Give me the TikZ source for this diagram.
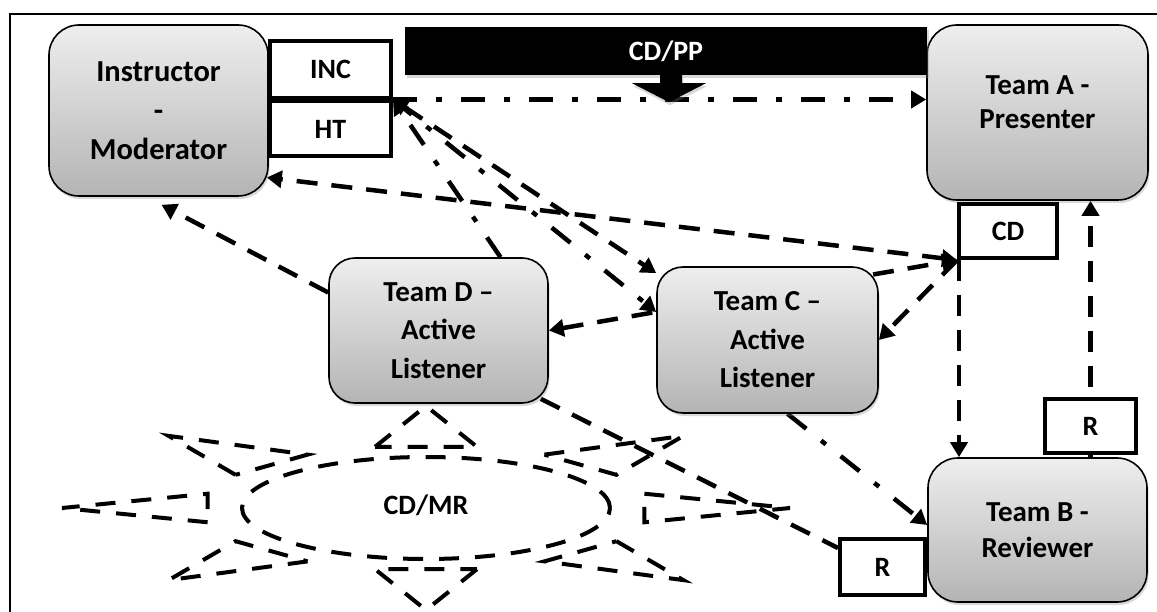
\documentclass[tikz,border=0pt]{standalone}
\usepackage{fontspec}
\setmainfont{Carlito}
\usetikzlibrary{arrows.meta,calc,shadows}
\definecolor{boxtop}{RGB}{238,238,238}
\definecolor{boxbot}{RGB}{180,180,180}
\pgfdeclarelayer{bg}
\pgfsetlayers{bg,main}
\begin{document}
\begin{tikzpicture}[x=1pt,y=-1pt,
  tbox/.style={draw=black, line width=1.6pt, rounded corners=30pt, top color=boxtop, bottom color=boxbot,
    align=center, font=\fontsize{29}{38.5}\selectfont\bfseries, inner sep=0pt,
    drop shadow={opacity=0.3, shadow xshift=1.5pt, shadow yshift=-3pt}},
  sbox/.style={tbox, rounded corners=26pt},
  lbox/.style={draw=black, line width=4pt, fill=white, font=\fontsize{28}{32}\selectfont\bfseries, inner sep=0pt},
  conn/.style={line width=4.5pt},
  dsh/.style={conn, dash pattern=on 21pt off 14pt},
  dd/.style={conn, dash pattern=on 24pt off 19pt on 6pt off 19pt},
  arr/.style={-{Triangle[length=15pt,width=17pt]}},
  arrs/.style={{Triangle[length=15pt,width=17pt]}-{Triangle[length=15pt,width=17pt]}},
  sunline/.style={line width=4pt, dash pattern=on 20pt off 16pt}
]
\useasboundingbox (0,0) rectangle (1157,612);
% frame
\draw[line width=2pt] (10,612) -- (10,14) -- (1157,14);

% boxes
\node[tbox, minimum width=219pt, minimum height=171pt, font=\fontsize{30.5}{39}\selectfont\bfseries] (inst) at (158.5,110.5) {Instructor\\-\\Moderator};
\node[tbox, minimum width=221pt, minimum height=175pt, font=\fontsize{29}{34}\selectfont\bfseries] (teamA) at (1037.5,112.5) {Team A -\\Presenter\\[-13pt]\mbox{}};
\node[tbox, minimum width=219pt, minimum height=144pt, font=\fontsize{29}{36}\selectfont\bfseries] (teamB) at (1037.5,530) {Team B -\\Reviewer};
\node[sbox, minimum width=221pt, minimum height=146pt] (teamC) at (767.5,340) {Team C --\\Active\\Listener};
\node[sbox, minimum width=219pt, minimum height=145pt] (teamD) at (438.5,330.5) {Team D --\\Active\\Listener};

\node[lbox, minimum width=121pt, minimum height=57pt] (inc) at (330.5,69.5) {INC};
\node[lbox, minimum width=121pt, minimum height=55pt] (ht) at (330.5,129) {HT};
\node[lbox, minimum width=98pt, minimum height=54pt] (cdbox) at (1008,231) {CD};
\node[lbox, minimum width=91pt, minimum height=54pt] (r1) at (1090.5,426) {R};
\node[lbox, minimum width=85pt, minimum height=56pt] (r2) at (882.5,567) {R};

% CD/PP bar
\node[fill=black, minimum width=522pt, minimum height=48pt, inner sep=0pt, text=white,
  font=\fontsize{28}{32}\selectfont\bfseries, drop shadow={opacity=0.3, shadow xshift=1.5pt, shadow yshift=-3pt}] (cdpp) at (666,51) {CD/PP};
\fill[black, drop shadow={opacity=0.3, shadow xshift=1pt, shadow yshift=-3pt}]
  ($(cdpp.south)+(-6,0)$) -- ($(cdpp.south)+(16,0)$) -- ($(cdpp.south)+(16,8)$) -- ($(cdpp.south)+(40,8)$)
  -- ($(cdpp.south)+(3,27)$) -- ($(cdpp.south)+(-34,8)$) -- ($(cdpp.south)+(-6,8)$) -- cycle;

% sun shape
\begin{pgfonlayer}{bg}
\begin{scope}[shift={(426,508)}, x=364pt, y=102pt]
  \draw[sunline] (0,0) circle [x radius=184pt, y radius=51pt];
  \foreach \a in {0,45,...,315} {
    \draw[sunline] ($(\a:0.6)+(\a+90:0.14)$) -- (\a:1) -- ($(\a:0.6)+(\a-90:0.14)$) -- cycle;
  }
\end{scope}
\end{pgfonlayer}
\node[font=\fontsize{28}{34}\selectfont\bfseries] (cdmr) at (426,505) {CD/MR};

% connectors
\begin{pgfonlayer}{bg}
\coordinate (cdv) at ($(cdbox.south west)+(2,0)$);
\draw[dd, arr] (ht.north east) -- (ht.north east -| teamA.west);
\draw[dd, arr] ($(teamD.north)+(62,0)$) -- (ht.north east);
\draw[dsh, arrs] (ht.north east) -- (teamC.149);
\draw[dd, arr] (ht.north east) -- ($(teamC.west)+(0,-28)$);
\draw[dsh, arrs] (cdbox.south west) -- ($(inst.east)+(-2,67)$);
\draw[dsh, arrs] (teamD.east) -- (cdbox.south west);
\draw[dsh, arr] (cdbox.south west) -- (teamC.east);
\draw[dsh, arr] ($(teamD.west)+(0,-38)$) -- ($(inst.south)+(3,8)$);
\draw[dsh, arr] (cdv) -- (cdv |- teamB.north);
\draw[dsh, arr] (r1.south |- teamB.north) -- (r1.north |- teamA.south);
\draw[dd, arr] ($(teamC.south)+(20,0)$) -- ($(teamB.west)+(0,-5)$);
\draw[dsh] ($(teamD.south east)+(-8,-5)$) -- ($(r2.north west)+(0,11)$);
\end{pgfonlayer}
\end{tikzpicture}
\end{document}
